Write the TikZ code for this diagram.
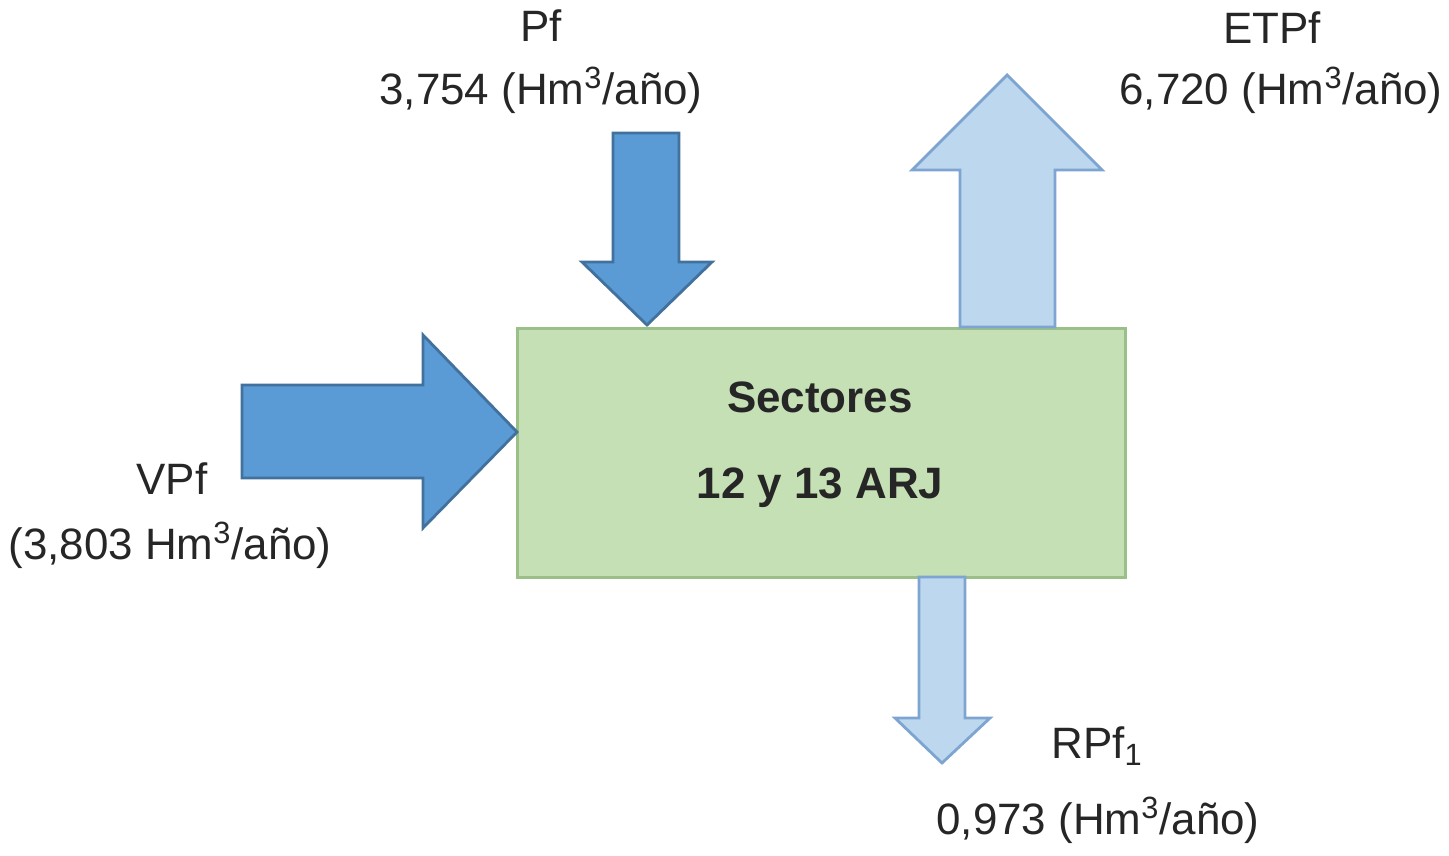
\documentclass[tikz,border=0pt]{standalone}
\usepackage{fontspec}
\setmainfont{Liberation Sans}
\definecolor{darkfill}{HTML}{5B9BD5}
\definecolor{darkline}{HTML}{41719C}
\definecolor{lightfill}{HTML}{BDD7EE}
\definecolor{lightline}{HTML}{7EA5D1}
\definecolor{boxfill}{HTML}{C5E0B4}
\definecolor{boxline}{HTML}{9BBF88}
\definecolor{txt}{HTML}{262626}
\tikzset{
  inflow/.style={fill=darkfill, draw=darkline, line width=1.6pt, line join=miter},
  outflow/.style={fill=lightfill, draw=lightline, line width=1.6pt, line join=miter},
  lbl/.style={text=txt, font=\fontsize{25}{30}\selectfont, inner sep=0pt}
}
\begin{document}
\begin{tikzpicture}[x=0.02cm, y=-0.02cm]
\useasboundingbox (0,0) rectangle (1449,855);
    % central box
    \node [fill=boxfill, draw=boxline, line width=1.6pt, minimum width=608*0.02cm,
           minimum height=249*0.02cm, anchor=north west] (sector) at (516,327) {};
    \node [lbl, font=\fontsize{25}{30}\selectfont\bfseries] (sec1) at (820,397) {Sectores};
    \node [lbl, font=\fontsize{25}{30}\selectfont\bfseries] (sec2) at (820,488) {12 y 13 ARJ};
    % Pf (in, from top)
    \draw [inflow] (613,133) -- (679,133) -- (679,262) -- (712,262) -- (647,325)
        -- (582,262) -- (613,262) -- cycle;
    \node [lbl] (pf) at (541,26) {Pf};
    \node [lbl] (pfval) at (541,90) {3,754 (Hm\textsuperscript{3}/año)};
    % VPf (in, from left)
    \draw [inflow] (242,385) -- (423,385) -- (423,335) -- (517,432) -- (423,528)
        -- (423,478) -- (242,478) -- cycle;
    \node [lbl] (vpf) at (172,479) {VPf};
    \node [lbl] (vpfval) at (170,545) {(3,803 Hm\textsuperscript{3}/año)};
    % ETPf (out, to top)
    \draw [outflow] (960,327) -- (960,170) -- (912,170) -- (1007,75) -- (1102,170)
        -- (1055,170) -- (1055,327) -- cycle;
    \node [lbl] (etpf) at (1272,28) {ETPf};
    \node [lbl] (etpfval) at (1281,90) {6,720 (Hm\textsuperscript{3}/año)};
    % RPf1 (out, to bottom)
    \draw [outflow] (919,577) -- (965,577) -- (965,718) -- (990,718) -- (942,763)
        -- (895,718) -- (919,718) -- cycle;
    \node [lbl] (rpf) at (1097,746) {RPf\textsubscript{1}};
    \node [lbl] (rpfval) at (1098,820) {0,973 (Hm\textsuperscript{3}/año)};
\end{tikzpicture}
\end{document}
